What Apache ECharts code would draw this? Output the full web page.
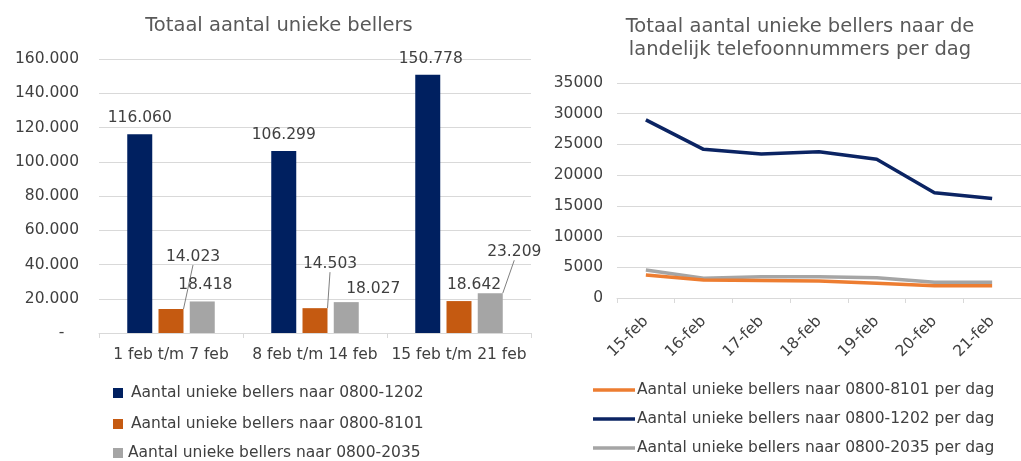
<!DOCTYPE html>
<html>
<head>
<meta charset="utf-8">
<script src="https://cdn.jsdelivr.net/npm/echarts@6/dist/echarts.min.js"></script>
<style>
html,body{margin:0;padding:0;background:#fff;}
#c{width:1021px;height:461px;}
</style>
</head>
<body>
<div id="c"></div>
<script>
// ---- data ----
const weekCategories = ['1 feb t/m 7 feb', '8 feb t/m 14 feb', '15 feb t/m 21 feb'];
const week1202 = [116060, 106299, 150778];
const week8101 = [14023, 14503, 18642];
const week2035 = [18418, 18027, 23209];
const weekNames = ['Aantal unieke bellers naar 0800-1202', 'Aantal unieke bellers naar 0800-8101', 'Aantal unieke bellers naar 0800-2035'];

const dayCategories = ['15-feb', '16-feb', '17-feb', '18-feb', '19-feb', '20-feb', '21-feb'];
const day8101 = [3750, 2930, 2850, 2780, 2400, 2000, 2000];
const day1202 = [29000, 24200, 23450, 23800, 22600, 17150, 16200];
const day2035 = [4550, 3200, 3450, 3450, 3300, 2550, 2550];
const dayNames = ['Aantal unieke bellers naar 0800-8101 per dag', 'Aantal unieke bellers naar 0800-1202 per dag', 'Aantal unieke bellers naar 0800-2035 per dag'];

const leftTicks = [0, 20000, 40000, 60000, 80000, 100000, 120000, 140000, 160000];
const rightTicks = [0, 5000, 10000, 15000, 20000, 25000, 30000, 35000];

// ---- styling / label placement (not data) ----
const FONT = 'DejaVu Sans';
const TXT = '#404040';
const GRID = '#d9d9d9';
const FS = 15.5;
const labelShift = { // seriesIndex -> dataIndex -> [dx, dy]
  0: {2: [3, 0]},
  1: {0: [22, -36], 1: [15, -28], 2: [15, 0]},
  2: {0: [3, 0], 1: [27, 3], 2: [24, -25]}
};
const guideLines = {1: [0, 1], 2: [2]};
const leftLegendTops = [385, 416, 445];
const rightLegendTops = [382, 411, 440];

function dots(v) { return String(v).replace(/\B(?=(\d{3})+(?!\d))/g, '.'); }

function barData(vals, sIdx) {
  return vals.map((v, i) => {
    const item = {value: v};
    if (guideLines[sIdx] && guideLines[sIdx].indexOf(i) >= 0) {
      item.labelLine = {show: true};
    }
    return item;
  });
}

const chart = echarts.init(document.getElementById('c'), null, {renderer: 'canvas'});

const barLabel = {
  show: true, position: 'top', distance: 8,
  fontFamily: FONT, fontSize: FS, color: TXT,
  formatter: p => dots(p.value)
};

const legends = [];
weekNames.forEach((n, i) => legends.push({
  orient: 'vertical', left: 113, top: leftLegendTops[i], padding: 0,
  itemWidth: 10, itemHeight: 10, icon: 'rect', data: [n],
  textStyle: {fontFamily: FONT, fontSize: FS, color: TXT, padding: [0, 0, 0, i < 2 ? 3 : 0]}
}));
dayNames.forEach((n, i) => legends.push({
  orient: 'vertical', left: 593, top: rightLegendTops[i], padding: 0,
  itemWidth: 42, itemHeight: 3.5, icon: 'rect', data: [n],
  textStyle: {fontFamily: FONT, fontSize: FS, color: TXT, padding: [0, 0, 0, -3]}
}));

const option = {
  backgroundColor: '#ffffff',
  animation: false,
  textStyle: {fontFamily: FONT},
  title: [
    {text: 'Totaal aantal unieke bellers', left: 274, top: 11, textAlign: 'center',
     textStyle: {fontFamily: FONT, fontSize: 19.5, fontWeight: 'normal', color: '#595959'}},
    {text: 'Totaal aantal unieke bellers naar de\nlandelijk telefoonnummers per dag', left: 795, top: 10, textAlign: 'center',
     textStyle: {fontFamily: FONT, fontSize: 19.5, fontWeight: 'normal', color: '#595959', lineHeight: 23}}
  ],
  legend: legends,
  grid: [
    {left: 99, top: 59, width: 432, height: 274},
    {left: 617, top: 83, width: 410, height: 215}
  ],
  xAxis: [
    {type: 'category', gridIndex: 0, data: weekCategories,
     axisLine: {lineStyle: {color: GRID}}, axisTick: {show: true, length: 5, lineStyle: {color: GRID}},
     axisLabel: {fontFamily: FONT, fontSize: FS, color: TXT, margin: 14, interval: 0}},
    {type: 'category', gridIndex: 1, data: dayCategories,
     axisLine: {lineStyle: {color: GRID}}, axisTick: {show: true, length: 5, lineStyle: {color: GRID}},
     axisLabel: {fontFamily: FONT, fontSize: FS, color: TXT, rotate: 45, margin: 21, interval: 0}}
  ],
  yAxis: [
    {type: 'value', gridIndex: 0, min: leftTicks[0], max: leftTicks[leftTicks.length - 1], interval: leftTicks[1] - leftTicks[0],
     axisLine: {show: false}, axisTick: {show: false},
     splitLine: {lineStyle: {color: GRID}},
     axisLabel: {fontFamily: FONT, fontSize: FS, color: TXT, margin: 20,
                 formatter: v => v === 0 ? '-   ' : dots(v)}},
    {type: 'value', gridIndex: 1, min: rightTicks[0], max: rightTicks[rightTicks.length - 1], interval: rightTicks[1] - rightTicks[0],
     axisLine: {show: false}, axisTick: {show: false},
     splitLine: {lineStyle: {color: GRID}},
     axisLabel: {fontFamily: FONT, fontSize: FS, color: TXT, margin: 14, formatter: v => String(v)}}
  ],
  series: [
    {name: weekNames[0], type: 'bar', xAxisIndex: 0, yAxisIndex: 0, data: barData(week1202, 0),
     barWidth: 25, barGap: '25%', itemStyle: {color: '#002060'}, label: barLabel},
    {name: weekNames[1], type: 'bar', xAxisIndex: 0, yAxisIndex: 0, data: barData(week8101, 1),
     barWidth: 25, barGap: '25%', itemStyle: {color: '#c55a11'}, label: barLabel,
     labelLine: {show: false, lineStyle: {color: '#7f7f7f', width: 1}}},
    {name: weekNames[2], type: 'bar', xAxisIndex: 0, yAxisIndex: 0, data: barData(week2035, 2),
     barWidth: 25, barGap: '25%', itemStyle: {color: '#a5a5a5'}, label: barLabel,
     labelLine: {show: false, lineStyle: {color: '#7f7f7f', width: 1}}},
    {name: dayNames[2], type: 'line', xAxisIndex: 1, yAxisIndex: 1, data: day2035,
     symbol: 'none', lineStyle: {color: '#a5a5a5', width: 3.5}, itemStyle: {color: '#a5a5a5'}},
    {name: dayNames[0], type: 'line', xAxisIndex: 1, yAxisIndex: 1, data: day8101,
     symbol: 'none', lineStyle: {color: '#ed7d31', width: 3.5}, itemStyle: {color: '#ed7d31'}},
    {name: dayNames[1], type: 'line', xAxisIndex: 1, yAxisIndex: 1, data: day1202,
     symbol: 'none', lineStyle: {color: '#0b2463', width: 3.5}, itemStyle: {color: '#0b2463'}}
  ]
};

option.series.forEach(s => {
  if (s.type === 'bar') {
    s.labelLayout = function (p) {
      const m = labelShift[p.seriesIndex];
      const o = m && m[p.dataIndex];
      return o ? {dx: o[0], dy: o[1]} : {};
    };
  }
});

chart.setOption(option);
</script>
</body>
</html>
